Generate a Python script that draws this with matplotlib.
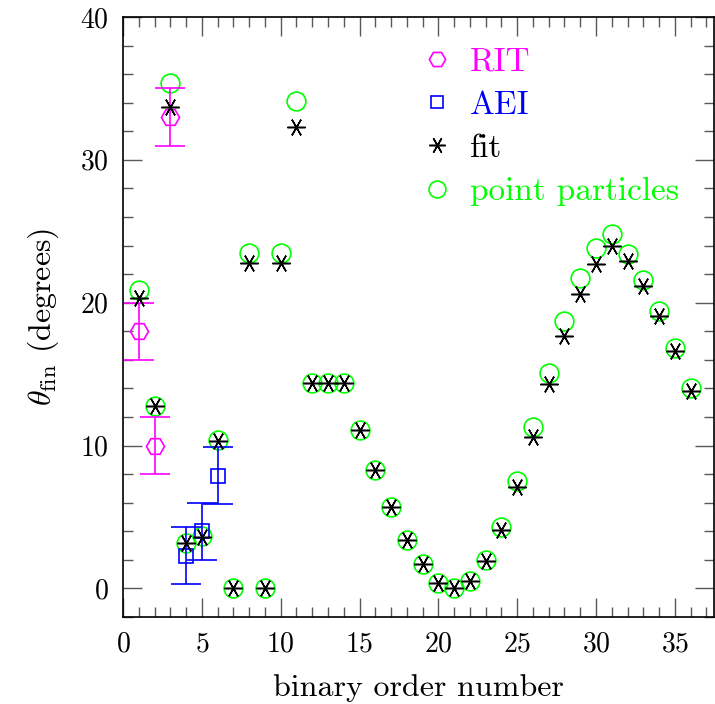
import matplotlib
matplotlib.use("Agg")
import matplotlib.pyplot as plt
from matplotlib.ticker import MultipleLocator

plt.rcParams['font.family'] = 'serif'
plt.rcParams['font.serif'] = ['cmr10']
plt.rcParams['mathtext.fontset'] = 'cm'
plt.rcParams['axes.formatter.use_mathtext'] = True

# binary order numbers
order = list(range(1, 37))

# point-particle prediction (degrees)
point_particles = [20.9, 12.8, 35.4, 3.2, 3.7, 10.4, 0.0, 23.5, 0.0, 23.5,
                   34.1, 14.4, 14.4, 14.4, 11.1, 8.3, 5.7, 3.4, 1.7, 0.4,
                   0.0, 0.5, 2.0, 4.3, 7.5, 11.3, 15.1, 18.7, 21.7, 23.8,
                   24.8, 23.4, 21.6, 19.4, 16.8, 14.0]

# fit (degrees)
fit = [20.3, 12.8, 33.7, 3.2, 3.6, 10.3, 0.0, 22.8, 0.0, 22.8,
       32.3, 14.4, 14.4, 14.4, 11.1, 8.3, 5.7, 3.4, 1.7, 0.4,
       0.0, 0.5, 1.9, 4.1, 7.1, 10.6, 14.3, 17.7, 20.6, 22.7,
       24.0, 22.9, 21.2, 19.1, 16.6, 13.8]

# RIT simulations
rit_order = [1, 2, 3]
rit_theta = [18.0, 10.0, 33.0]
rit_err = [2.0, 2.0, 2.0]

# AEI simulations
aei_order = [4, 5, 6]
aei_theta = [2.3, 4.0, 7.9]
aei_err = [2.0, 2.0, 2.0]

fig = plt.figure(figsize=(7.15, 7.04), dpi=100)
ax = fig.add_axes([0.172, 0.1236, 0.827, 0.8523])

magenta = '#ff00ff'
blue = '#0000ff'
green = '#00ff00'

h_pp, = ax.plot(order, point_particles, linestyle='none', marker='o',
                markersize=13.5, markerfacecolor='none', markeredgecolor=green,
                markeredgewidth=1.2, label='point particles', zorder=2)

ax.errorbar(rit_order, rit_theta, yerr=rit_err, fmt='none', ecolor=magenta,
            elinewidth=1.2, capsize=11, capthick=1.2, zorder=3)
h_rit, = ax.plot(rit_order, rit_theta, linestyle='none', marker='H',
                 markersize=13, markerfacecolor='none', markeredgecolor=magenta,
                 markeredgewidth=1.2, label='RIT', zorder=3)

ax.errorbar(aei_order, aei_theta, yerr=aei_err, fmt='none', ecolor=blue,
            elinewidth=1.2, capsize=11, capthick=1.2, zorder=3)
h_aei, = ax.plot(aei_order, aei_theta, linestyle='none', marker='s',
                 markersize=9.5, markerfacecolor='none', markeredgecolor=blue,
                 markeredgewidth=1.2, label='AEI', zorder=3)

h_fit, = ax.plot(order, fit, linestyle='none', marker=(6, 2, 90),
                 markersize=13, color='black', markeredgewidth=1.1,
                 label='fit', zorder=4)

ax.set_xlim(0, 37.5)
ax.set_ylim(-2, 40)

ax.xaxis.set_major_locator(MultipleLocator(5))
ax.xaxis.set_minor_locator(MultipleLocator(1))
ax.yaxis.set_major_locator(MultipleLocator(10))
ax.yaxis.set_minor_locator(MultipleLocator(2))

ax.tick_params(which='both', direction='in', top=True, right=True,
               color='0.35', width=1.0, labelsize=20)
ax.tick_params(which='major', length=14, pad=10)
ax.tick_params(which='minor', length=7)
for s in ax.spines.values():
    s.set_linewidth(1.2)

ax.set_xlabel('binary order number', fontsize=23, labelpad=12)
ax.set_ylabel(r'$\theta_{\rm fin}$ (degrees)', fontsize=23, labelpad=14)

leg = ax.legend(handles=[h_rit, h_aei, h_fit, h_pp], loc='upper left',
                bbox_to_anchor=(0.475, 0.972), frameon=False, fontsize=24,
                labelspacing=0.42, handletextpad=0.37, handlelength=1.2,
                markerscale=0.9, borderaxespad=0)
for text, col in zip(leg.get_texts(), [magenta, blue, 'black', green]):
    text.set_color(col)

fig.savefig('out.png', dpi=100)
